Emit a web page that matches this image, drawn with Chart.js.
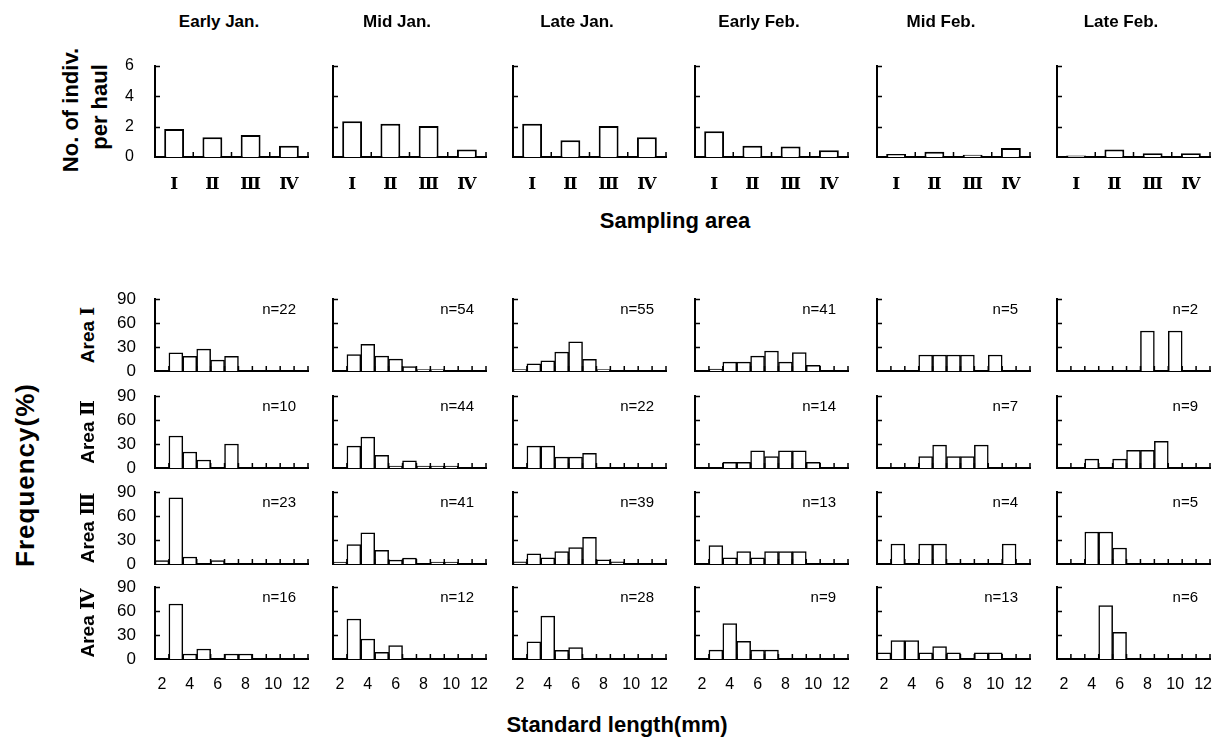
<!DOCTYPE html>
<html lang="en">
<head>
<meta charset="UTF-8">
<title>Abundance and length frequency by sampling area</title>
<script src="https://cdn.jsdelivr.net/npm/chart.js@4.4.1/dist/chart.umd.min.js"></script>
<style>
  body { margin: 0; background: #fff; }
  #fig { position: relative; width: 1216px; height: 743px; overflow: hidden; background: #fff;
         font-family: "Liberation Sans", Arial, "Noto Sans CJK JP", sans-serif; color: #000; }
  #fig canvas { position: absolute; }
  .lbl { position: absolute; font-weight: bold; white-space: nowrap; transform: translate(-50%, -50%); }
  .rot { transform: translate(-50%, -50%) rotate(-90deg); }
  .roman { font-family: "DejaVu Serif", "Liberation Serif", serif; }
</style>
</head>
<body>
<div id="fig"></div>
<script>
// half-month sampling periods (columns)
const periods = ['Early Jan.', 'Mid Jan.', 'Late Jan.', 'Early Feb.', 'Mid Feb.', 'Late Feb.'];
const areaTicks = ['Ⅰ', 'Ⅱ', 'Ⅲ', 'Ⅳ'];
const areaNames = ['Ⅰ', 'Ⅱ', 'Ⅲ', 'Ⅳ'];
// standard length classes (mm), one bar per class
const lengthBins = ['2', '3', '4', '5', '6', '7', '8', '9', '10', '11', '12'];

// No. of indiv. per haul, areas I-IV, one row per period
const perHaul = [
  [1.85, 1.3, 1.45, 0.75],
  [2.35, 2.2, 2.05, 0.5],
  [2.2, 1.1, 2.05, 1.3],
  [1.7, 0.75, 0.7, 0.45],
  [0.2, 0.35, 0.15, 0.6],
  [0.1, 0.5, 0.25, 0.25]
];

// frequency (%) by length class, one row per period
const freqAreaI = [
  [0, 22.7, 18.2, 27.3, 13.6, 18.2, 0, 0, 0, 0, 0],
  [0, 20.4, 33.3, 18.5, 14.8, 5.6, 1.9, 1.9, 0, 0, 0],
  [1.8, 9.1, 12.7, 23.6, 36.4, 14.5, 1.8, 0, 0, 0, 0],
  [0, 2.4, 11, 11, 18.5, 25, 11, 23, 7, 0, 0],
  [0, 0, 0, 20, 20, 20, 20, 0, 20, 0, 0],
  [0, 0, 0, 0, 0, 0, 50, 0, 50, 0, 0]
];
const freqAreaII = [
  [0, 40, 20, 10, 0, 30, 0, 0, 0, 0, 0],
  [0, 27.3, 38.6, 15.9, 2.3, 9.1, 2.3, 2.3, 2.3, 0, 0],
  [0, 27.3, 27.3, 13.6, 13.6, 18.2, 0, 0, 0, 0, 0],
  [0, 0, 7.1, 7.1, 21.4, 14.3, 21.4, 21.4, 7.1, 0, 0],
  [0, 0, 0, 14.3, 28.6, 14.3, 14.3, 28.6, 0, 0, 0],
  [0, 0, 11.1, 0, 11.1, 22.2, 22.2, 33.3, 0, 0, 0]
];
const freqAreaIII = [
  [4.3, 82.6, 8.7, 0, 4.3, 0, 0, 0, 0, 0, 0],
  [2.4, 24.4, 39, 17.1, 4.9, 7.3, 0, 2.4, 2.4, 0, 0],
  [2.6, 12.8, 7.7, 15.4, 20.5, 33.3, 5.1, 2.6, 0, 0, 0],
  [0, 23.1, 7.7, 15.4, 7.7, 15.4, 15.4, 15.4, 0, 0, 0],
  [0, 25, 0, 25, 25, 0, 0, 0, 0, 25, 0],
  [0, 0, 40, 40, 20, 0, 0, 0, 0, 0, 0]
];
const freqAreaIV = [
  [0, 68.8, 6.3, 12.5, 0, 6.3, 6.3, 0, 0, 0, 0],
  [0, 50, 25, 8.3, 16.7, 0, 0, 0, 0, 0, 0],
  [0, 21.4, 53.6, 10.7, 14.3, 0, 0, 0, 0, 0, 0],
  [0, 11.1, 44.4, 22.2, 11.1, 11.1, 0, 0, 0, 0, 0],
  [7.7, 23.1, 23.1, 7.7, 15.4, 7.7, 0, 7.7, 7.7, 0, 0],
  [0, 0, 0, 66.7, 33.3, 0, 0, 0, 0, 0, 0]
];
// sample sizes, areas I-IV, one row per period
const sampleN = [
  [22, 10, 23, 16],
  [54, 44, 41, 12],
  [55, 22, 39, 28],
  [41, 14, 13, 9],
  [5, 7, 4, 13],
  [2, 9, 5, 6]
];

const freqRows = [freqAreaI, freqAreaII, freqAreaIII, freqAreaIV];

// layout (pixels)
const colX = [155, 333, 513, 695, 877, 1057];
const plotW = 153;
const topAxisTop = 66, topAxisH = 91;
const rowBase = [371, 468, 564, 659];
const rowH = 72;
const romanFont = '"DejaVu Serif", "Liberation Serif", serif';

Chart.defaults.font.family = '"Liberation Sans", Arial, sans-serif';
Chart.defaults.font.size = 16;
Chart.defaults.color = '#000';

const fig = document.getElementById('fig');

// small tick marks pointing into the plot, plus the n= note
const inwardTicks = {
  id: 'panelNote',
  afterDatasetsDraw(chart, args, opts) {
    const { ctx, scales: { x, y } } = chart;
    ctx.save();
    ctx.strokeStyle = '#000';
    ctx.lineWidth = 1.5;
    ctx.beginPath();
    y.ticks.forEach(t => {
      if (t.value === 0) return;
      const py = Math.round(y.getPixelForValue(t.value)) + 0.5;
      ctx.moveTo(x.left, py);
      ctx.lineTo(x.left + 5, py);
    });
    const n = chart.data.labels.length;
    for (let i = 1; i <= n; i++) {
      const px = x.getPixelForValue(i - 0.5);
      ctx.moveTo(px, y.bottom);
      ctx.lineTo(px, y.bottom - 5);
    }
    ctx.stroke();
    if (opts.text) {
      ctx.fillStyle = '#000';
      ctx.font = '15px "Liberation Sans", Arial, sans-serif';
      ctx.textAlign = 'right';
      ctx.textBaseline = 'middle';
      ctx.fillText(opts.text, chart.chartArea.right - 12, chart.chartArea.top + 11);
    }
    ctx.restore();
  }
};

function makePanel(left, top, plotH, xH, labels, values, cfg) {
  const c = document.createElement('canvas');
  c.width = 40 + plotW + 7;
  c.height = 10 + plotH + xH;
  c.style.left = left + 'px';
  c.style.top = top + 'px';
  fig.appendChild(c);
  new Chart(c, {
    type: 'bar',
    data: {
      labels: labels,
      datasets: [{
        data: values,
        backgroundColor: '#fff',
        borderColor: '#000',
        borderWidth: cfg.barLine,
        barPercentage: cfg.barPct,
        categoryPercentage: 1
      }]
    },
    options: {
      responsive: false,
      animation: false,
      devicePixelRatio: 1,
      events: [],
      layout: { padding: { top: 10, right: 7, left: 0, bottom: 0 } },
      plugins: {
        legend: { display: false },
        tooltip: { enabled: false },
        panelNote: { text: cfg.note }
      },
      scales: {
        x: {
          grid: { display: false },
          border: { color: '#000', width: 2 },
          ticks: {
            display: cfg.showX,
            autoSkip: false,
            maxRotation: 0,
            padding: cfg.xPad,
            font: cfg.xFont,
            callback: function (v, i) {
              if (cfg.evenOnly && i % 2) return '';
              return this.getLabelForValue(v);
            }
          },
          // fixed axis size, labels must not shrink the plot
          afterFit: s => { s.height = xH; s.paddingLeft = 0; s.paddingRight = 0; }
        },
        y: {
          min: 0,
          max: cfg.yMax,
          grid: { display: false },
          border: { color: '#000', width: 2 },
          ticks: { display: cfg.showY, stepSize: cfg.yStep, padding: cfg.yPad, font: cfg.yFont },
          afterFit: s => { s.width = 40; s.paddingTop = 0; s.paddingBottom = 0; }
        }
      }
    },
    plugins: [inwardTicks]
  });
}

// top row: individuals per haul
periods.forEach((p, ci) => {
  makePanel(colX[ci] - 40, topAxisTop - 10, topAxisH, 45, areaTicks, perHaul[ci], {
    barPct: 0.52, barLine: 2, yMax: 6, yStep: 2, showY: ci === 0, yPad: 13,
    yFont: { size: 16 },
    showX: true, xPad: 9, evenOnly: false,
    xFont: { family: romanFont, weight: 'bold', size: 17 },
    note: ''
  });
});

// bottom rows: length frequency per area
freqRows.forEach((rows, ri) => {
  periods.forEach((p, ci) => {
    makePanel(colX[ci] - 40, rowBase[ri] - rowH - 10, rowH, 35, lengthBins, rows[ci], {
      barPct: 1, barLine: 1.5, yMax: 90, yStep: 30, showY: ci === 0, yPad: 11,
      yFont: { size: 17 },
      showX: ri === 3, xPad: 8, evenOnly: true,
      xFont: { size: 16 },
      note: 'n=' + sampleN[ci][ri]
    });
  });
});

function addLabel(html, x, y, size, rotate) {
  const d = document.createElement('div');
  d.className = 'lbl' + (rotate ? ' rot' : '');
  d.innerHTML = html;
  d.style.left = x + 'px';
  d.style.top = y + 'px';
  d.style.fontSize = size + 'px';
  fig.appendChild(d);
  return d;
}

periods.forEach((p, ci) => addLabel(p, colX[ci] + 64, 22, 17, false));
addLabel('No. of indiv.', 71, 110, 22, true);
addLabel('per haul', 100, 107, 22, true);
addLabel('Sampling area', 675, 221, 22, false);
addLabel('Frequency(%)', 25, 475, 26, true).style.letterSpacing = '1px';
areaNames.forEach((a, ri) => addLabel('Area <span class="roman">' + a + '</span>', 87, rowBase[ri] - rowH / 2, 19, true));
addLabel('Standard length(mm)', 617, 725, 22, false);
</script>
</body>
</html>
